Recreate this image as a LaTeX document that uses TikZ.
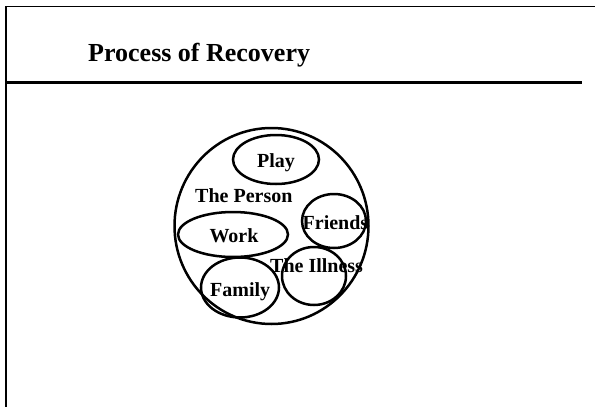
\documentclass[tikz,border=0pt]{standalone}
\usepackage{fontspec}
\setmainfont{Liberation Serif}
\usetikzlibrary{shapes.geometric}
\begin{document}
\begin{tikzpicture}[x=1pt,y=-1pt,
  frameline/.style={line width=1.8pt,black},
  ringshape/.style={draw,ellipse,line width=2.5pt,inner sep=0pt},
  lbl/.style={font=\fontsize{20}{22}\selectfont\bfseries,inner sep=0pt,anchor=base west},
  ttl/.style={font=\fontsize{26}{28}\selectfont\bfseries,inner sep=0pt,anchor=base west}]
\useasboundingbox (0,0) rectangle (595,407);
% frame
\coordinate (tl) at (6,6.5);
\coordinate (tr) at (596,6.5);
\coordinate (bl) at (6,408);
\coordinate (hl) at (5,82.5);
\coordinate (hr) at (582,82.5);
\draw[frameline] (tr) -- (tl) -- (bl);
\draw[line width=3pt] (hl) -- (hr);
\node[ttl] (title) at (88,61.5) {Process of Recovery};
% outer circle
\node[ringshape,minimum width=194pt,minimum height=196pt] (person) at (271.5,226) {};
% inner ellipses
\node[ringshape,minimum width=86pt,minimum height=49pt] (play) at (276,159.5) {};
\node[ringshape,minimum width=110pt,minimum height=45pt] (work) at (233,234.5) {};
\node[ringshape,minimum width=64pt,minimum height=54pt] (friends) at (334,221) {};
\node[ringshape,minimum width=78pt,minimum height=60pt] (family) at (240,287.5) {};
\node[ringshape,minimum width=64pt,minimum height=58pt] (illness) at (314,276) {};
% labels
\node[lbl] (tplay) at (257,167.3) {Play};
\node[lbl] (tperson) at (195,202.7) {The Person};
\node[lbl] (tfriends) at (302.5,229.3) {Friends};
\node[lbl] (twork) at (209.3,242.7) {Work};
\node[lbl] (tillness) at (270,272.7) {The Illness};
\node[lbl] (tfamily) at (210,296) {Family};
\end{tikzpicture}
\end{document}
